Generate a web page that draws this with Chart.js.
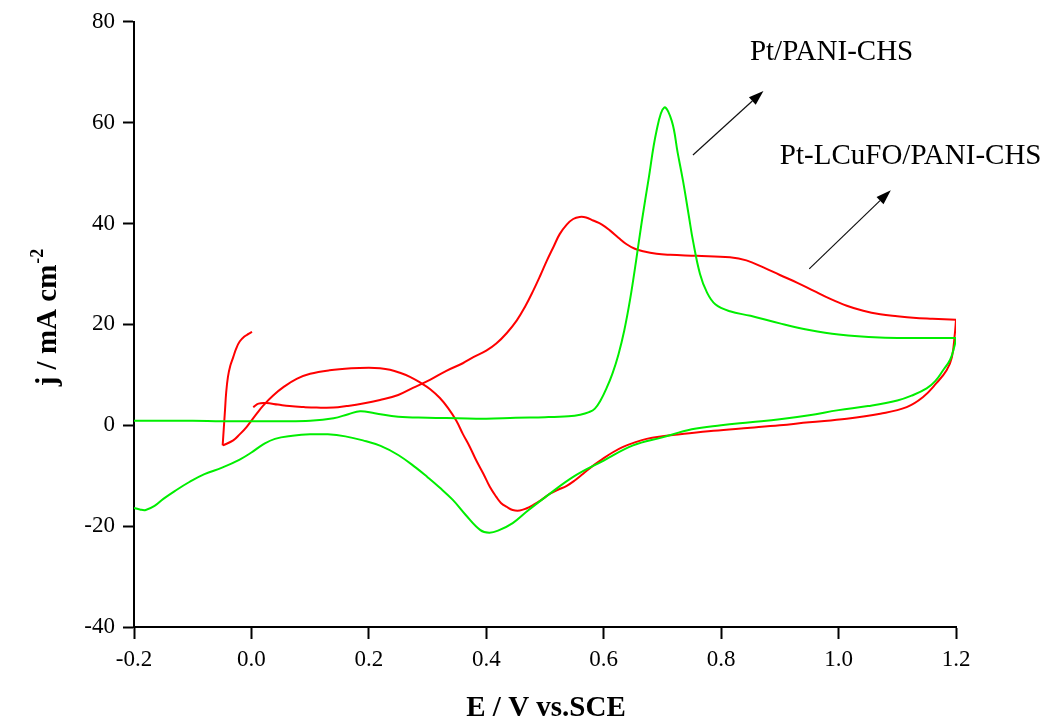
<!DOCTYPE html>
<html>
<head>
<meta charset="utf-8">
<title>CV curves</title>
<script src="https://cdn.jsdelivr.net/npm/chart.js@4.4.1/dist/chart.umd.min.js"></script>
<style>
  body { margin: 0; background: #fff; }
  #cv { display: block; }
</style>
</head>
<body>
<canvas id="cv" width="1059" height="725"></canvas>
<script>
// Pt/PANI-CHS, anodic sweep (E in V, j in mA cm-2)
const ptE_fwd = [-0.2, -0.15, -0.1, -0.05, 0.0, 0.05, 0.1, 0.14, 0.165, 0.185, 0.21, 0.25, 0.3, 0.35, 0.4, 0.45, 0.5, 0.54, 0.56, 0.575, 0.585, 0.595, 0.605, 0.615, 0.625, 0.635, 0.645, 0.655, 0.665, 0.676, 0.69, 0.703, 0.716, 0.726, 0.735, 0.745, 0.752, 0.764, 0.776, 0.79, 0.815, 0.85, 0.9, 0.95, 1.0, 1.07, 1.13, 1.2];
const ptJ_fwd = [0.9, 0.9, 0.9, 0.8, 0.8, 0.8, 0.9, 1.4, 2.2, 2.8, 2.4, 1.7, 1.5, 1.4, 1.3, 1.5, 1.6, 1.8, 2.1, 2.6, 3.3, 5.0, 7.4, 10.3, 14.0, 18.8, 25.0, 32.5, 40.5, 48.5, 58.4, 63.0, 60.3, 54.0, 48.5, 41.5, 36.6, 30.0, 26.3, 24.0, 22.6, 21.7, 20.2, 18.9, 18.0, 17.4, 17.3, 17.3];
// Pt/PANI-CHS, cathodic sweep
const ptE_rev = [1.2, 1.197, 1.19, 1.178, 1.165, 1.15, 1.125, 1.1, 1.05, 1.0, 0.95, 0.9, 0.85, 0.8, 0.75, 0.7, 0.65, 0.6, 0.55, 0.5, 0.47, 0.445, 0.42, 0.405, 0.39, 0.365, 0.343, 0.32, 0.3, 0.28, 0.25, 0.22, 0.19, 0.16, 0.13, 0.1, 0.07, 0.04, 0.02, 0.0, -0.02, -0.05, -0.08, -0.105, -0.13, -0.15, -0.165, -0.18, -0.19, -0.2];
const ptJ_rev = [17.2, 15.5, 13.0, 10.9, 8.8, 7.3, 5.9, 4.9, 3.8, 3.0, 2.0, 1.2, 0.6, 0.0, -0.8, -2.4, -4.0, -7.0, -10.1, -14.3, -17.0, -19.4, -20.9, -21.3, -20.8, -17.8, -14.8, -12.3, -10.3, -8.4, -5.9, -4.1, -3.0, -2.2, -1.8, -1.8, -2.1, -2.7, -3.8, -5.4, -6.8, -8.4, -9.7, -11.2, -13.0, -14.6, -16.0, -16.8, -16.7, -16.4];

// Pt-LCuFO/PANI-CHS, anodic sweep
const lcE_fwd = [0.003, 0.012, 0.025, 0.045, 0.065, 0.09, 0.111, 0.14, 0.162, 0.19, 0.219, 0.25, 0.275, 0.304, 0.332, 0.36, 0.378, 0.4, 0.417, 0.435, 0.452, 0.466, 0.48, 0.492, 0.503, 0.515, 0.525, 0.537, 0.548, 0.559, 0.57, 0.582, 0.597, 0.611, 0.625, 0.639, 0.653, 0.667, 0.69, 0.713, 0.758, 0.815, 0.843, 0.872, 0.9, 0.929, 0.957, 0.985, 1.014, 1.042, 1.071, 1.1, 1.127, 1.16, 1.2];
const lcJ_fwd = [3.6, 4.3, 4.4, 4.1, 3.8, 3.6, 3.5, 3.5, 3.8, 4.3, 5.0, 6.0, 7.4, 9.0, 10.8, 12.3, 13.5, 14.8, 16.2, 18.3, 20.8, 23.5, 26.7, 29.7, 32.6, 35.5, 37.9, 39.8, 40.9, 41.3, 41.2, 40.6, 39.8, 38.6, 37.2, 35.9, 35.0, 34.5, 34.0, 33.8, 33.6, 33.3, 32.7, 31.3, 29.8, 28.3, 26.7, 25.1, 23.7, 22.7, 22.0, 21.6, 21.3, 21.1, 20.9];
// Pt-LCuFO/PANI-CHS, cathodic sweep
const lcE_rev = [1.2, 1.198, 1.193, 1.184, 1.167, 1.144, 1.116, 1.071, 1.014, 0.95, 0.9, 0.85, 0.787, 0.73, 0.7, 0.673, 0.653, 0.633, 0.615, 0.599, 0.582, 0.565, 0.55, 0.537, 0.522, 0.508, 0.494, 0.48, 0.468, 0.457, 0.445, 0.435, 0.425, 0.417, 0.406, 0.395, 0.383, 0.372, 0.36, 0.349, 0.335, 0.321, 0.304, 0.287, 0.27, 0.253, 0.236, 0.219, 0.2, 0.17, 0.133, 0.1, 0.077, 0.055, 0.037, 0.02, 0.009, -0.008, -0.02, -0.031, -0.049];
const lcJ_rev = [20.9, 18.1, 13.5, 10.9, 8.4, 5.6, 3.6, 2.3, 1.3, 0.6, 0.0, -0.5, -1.1, -1.8, -2.2, -2.7, -3.4, -4.3, -5.4, -6.6, -8.0, -9.6, -11.0, -12.0, -12.8, -13.6, -14.8, -15.8, -16.5, -16.9, -16.8, -16.2, -15.4, -14.2, -12.2, -9.6, -7.0, -4.3, -1.7, 0.9, 3.4, 5.4, 7.2, 8.5, 9.6, 10.4, 11.0, 11.3, 11.4, 11.3, 10.9, 10.2, 9.2, 7.6, 5.9, 3.9, 2.3, -0.3, -1.8, -3.0, -4.0];
// Pt-LCuFO/PANI-CHS, return sweep
const lcE_ret = [-0.049, -0.047, -0.045, -0.043, -0.04, -0.036, -0.031, -0.026, -0.02, -0.012, -0.005, 0.001];
const lcJ_ret = [-4.0, -0.5, 3.0, 6.5, 9.6, 11.8, 13.5, 15.2, 16.6, 17.6, 18.1, 18.5];

const xTicks = [-0.2, 0.0, 0.2, 0.4, 0.6, 0.8, 1.0, 1.2];
const xTickLabels = ['-0.2', '0.0', '0.2', '0.4', '0.6', '0.8', '1.0', '1.2'];
const yTicks = [-40, -20, 0, 20, 40, 60, 80];
const yTickLabels = ['-40', '-20', '0', '20', '40', '60', '80'];

const xTitle = 'E / V vs.SCE';
const yTitle = 'j / mA cm';
const yTitleSup = '-2';

// curve labels and their arrows, in data units (E, j)
const curveLabels = [
  { text: 'Pt/PANI-CHS', e: 0.849, j: 72.5 },
  { text: 'Pt-LCuFO/PANI-CHS', e: 0.900, j: 51.8 }
];
const arrows = [
  { e0: 0.752, j0: 53.6, e1: 0.872, j1: 66.3 },
  { e0: 0.950, j0: 31.0, e1: 1.089, j1: 46.6 }
];

const GREEN = '#00ee00';
const RED = '#ff0000';
const serif = '"Liberation Serif", "Times New Roman", serif';

const pts = (xs, ys) => xs.map((x, i) => ({ x: x, y: ys[i] }));
const sweep = (xs, ys, color) => ({
  data: pts(xs, ys),
  borderColor: color,
  borderWidth: 2,
  pointRadius: 0,
  showLine: true,
  fill: false,
  tension: 0.4
});

const decorations = {
  id: 'decorations',
  afterDraw(chart) {
    const c = chart.ctx;
    const sx = chart.scales.x, sy = chart.scales.y;
    c.save();
    c.fillStyle = '#000';

    // x axis title
    c.font = 'bold 29px ' + serif;
    c.textAlign = 'center';
    c.textBaseline = 'alphabetic';
    c.fillText(xTitle, 546, 716);

    // y axis title with superscript, rotated
    c.save();
    c.translate(56, 318);
    c.rotate(-Math.PI / 2);
    c.textAlign = 'left';
    c.font = 'bold 29px ' + serif;
    const w1 = c.measureText(yTitle).width;
    c.font = 'bold 18px ' + serif;
    const w2 = c.measureText(yTitleSup).width;
    const start = -(w1 + w2) / 2;
    c.font = 'bold 29px ' + serif;
    c.fillText(yTitle, start, 0);
    c.font = 'bold 18px ' + serif;
    c.fillText(yTitleSup, start + w1 + 1, -13);
    c.restore();

    // curve labels
    c.font = '29px ' + serif;
    c.textAlign = 'left';
    curveLabels.forEach(l => {
      c.fillText(l.text, sx.getPixelForValue(l.e), sy.getPixelForValue(l.j));
    });

    // arrows
    c.strokeStyle = '#111';
    c.fillStyle = '#000';
    c.lineWidth = 1.2;
    arrows.forEach(a => {
      const x0 = sx.getPixelForValue(a.e0), y0 = sy.getPixelForValue(a.j0);
      const x1 = sx.getPixelForValue(a.e1), y1 = sy.getPixelForValue(a.j1);
      const ang = Math.atan2(y1 - y0, x1 - x0);
      const len = 15, half = 5;
      const bx = x1 - len * Math.cos(ang), by = y1 - len * Math.sin(ang);
      c.beginPath();
      c.moveTo(x0, y0);
      c.lineTo(bx, by);
      c.stroke();
      c.beginPath();
      c.moveTo(x1, y1);
      c.lineTo(bx + half * Math.sin(ang), by - half * Math.cos(ang));
      c.lineTo(bx - half * Math.sin(ang), by + half * Math.cos(ang));
      c.closePath();
      c.fill();
    });
    c.restore();
  }
};

const ctx = document.getElementById('cv').getContext('2d');

const chart = new Chart(ctx, {
  type: 'scatter',
  data: {
    datasets: [
      sweep(ptE_fwd, ptJ_fwd, GREEN),
      sweep(ptE_rev, ptJ_rev, GREEN),
      sweep(lcE_fwd, lcJ_fwd, RED),
      sweep(lcE_rev, lcJ_rev, RED),
      sweep(lcE_ret, lcJ_ret, RED)
    ]
  },
  options: {
    responsive: false,
    animation: false,
    devicePixelRatio: 1,
    layout: { padding: { top: 21, right: 103, bottom: 0, left: 0 } },
    plugins: {
      legend: { display: false },
      tooltip: { enabled: false }
    },
    scales: {
      x: {
        type: 'linear',
        min: -0.2,
        max: 1.2,
        afterBuildTicks: s => { s.ticks = xTicks.map(v => ({ value: v })); },
        afterFit: s => { s.height = 98; },
        ticks: {
          callback: (v, i) => xTickLabels[i],
          font: { family: serif, size: 23 },
          color: '#000',
          padding: 7,
          maxRotation: 0,
          autoSkip: false
        },
        grid: { drawOnChartArea: false, tickLength: 12, tickWidth: 2, tickColor: '#000' },
        border: { color: '#000', width: 2 }
      },
      y: {
        type: 'linear',
        min: -40,
        max: 80,
        afterBuildTicks: s => { s.ticks = yTicks.map(v => ({ value: v })); },
        afterFit: s => { s.width = 134; },
        ticks: {
          callback: (v, i) => yTickLabels[i],
          font: { family: serif, size: 23 },
          color: '#000',
          padding: 8,
          autoSkip: false
        },
        grid: { drawOnChartArea: false, tickLength: 11, tickWidth: 2, tickColor: '#000' },
        border: { color: '#000', width: 2 }
      }
    }
  },
  plugins: [decorations]
});
</script>
</body>
</html>
